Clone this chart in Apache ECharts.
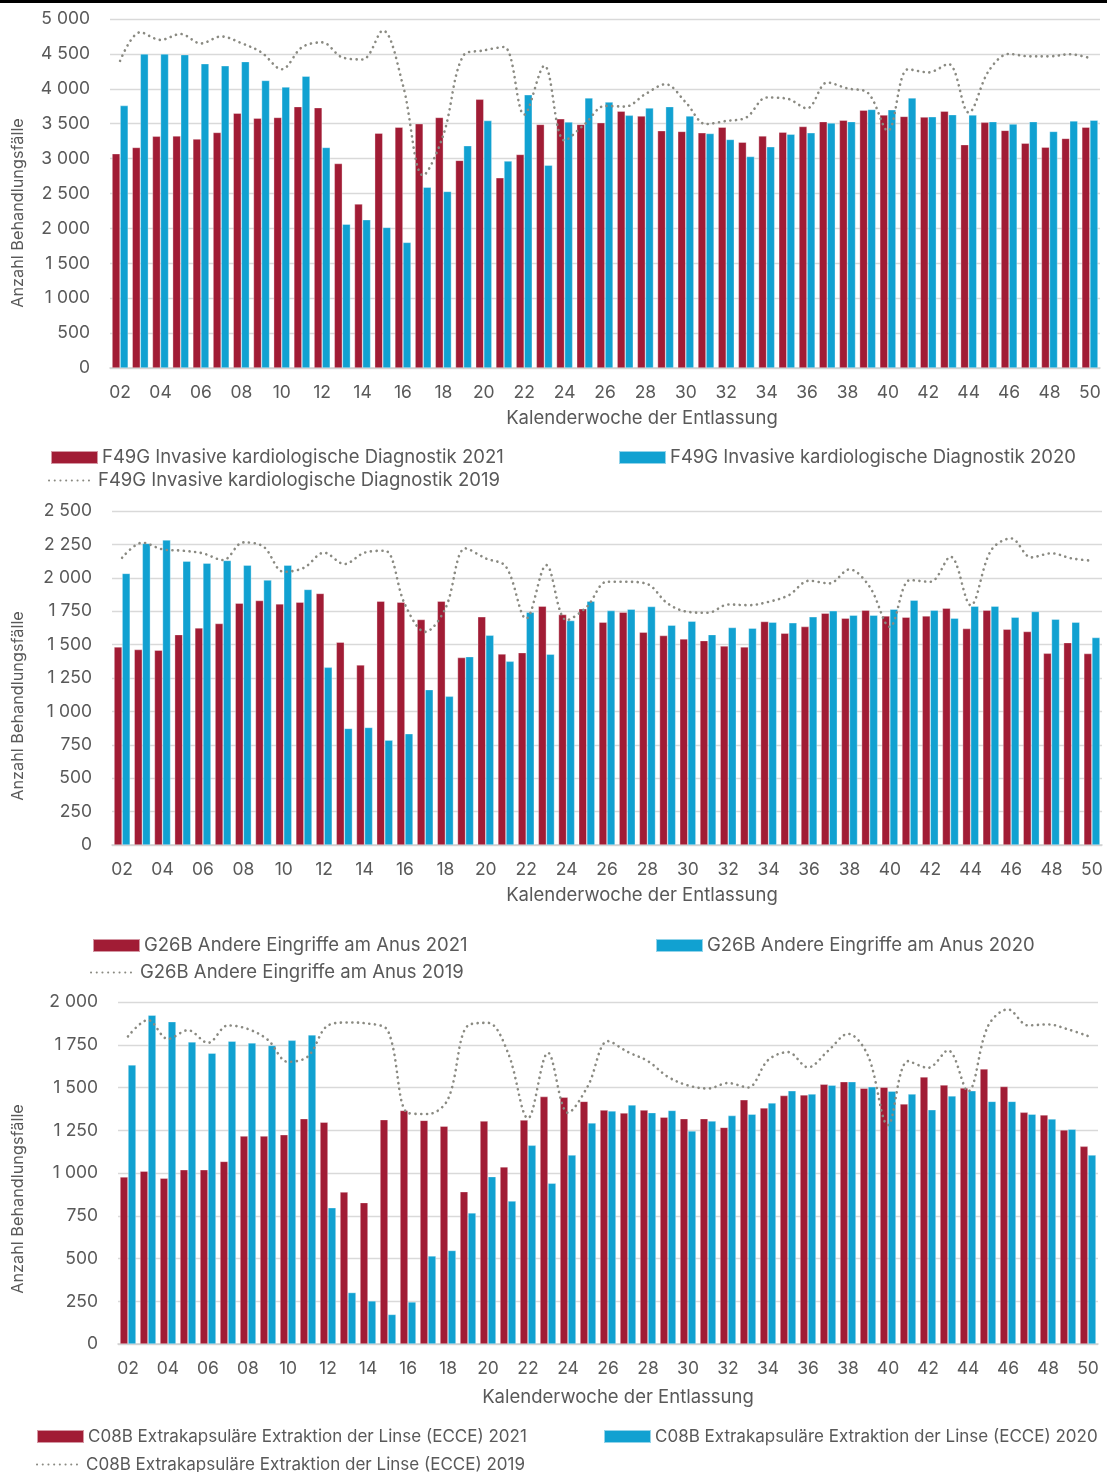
<!DOCTYPE html>
<html>
<head>
<meta charset="utf-8">
<script src="https://cdn.jsdelivr.net/npm/echarts@6/dist/echarts.min.js"></script>
<style>
  html, body { margin: 0; padding: 0; background: #fff; }
  #chart { width: 1107px; height: 1472px; }
</style>
</head>
<body>
<div id="chart"></div>
<script>
let weeks = ['02', '03', '04', '05', '06', '07', '08', '09', '10', '11', '12', '13', '14', '15', '16', '17', '18', '19', '20', '21', '22', '23', '24', '25', '26',
    '27', '28', '29', '30', '31', '32', '33', '34', '35', '36', '37', '38', '39', '40', '41', '42', '43', '44', '45', '46', '47', '48', '49', '50'];

// F49G Invasive kardiologische Diagnostik
let f49g2021 = [3070, 3160, 3320, 3325, 3280, 3375, 3650, 3580, 3590, 3745, 3730, 2930, 2350, 3365, 3450, 3500, 3590, 2975, 3850, 2725, 3060, 3490, 3570, 3490, 3515,
    3680, 3610, 3400, 3390, 3370, 3450, 3235, 3325, 3380, 3460, 3530, 3550, 3695, 3625, 3605, 3595, 3680, 3200, 3520, 3405, 3220, 3165, 3290, 3450];
let f49g2020 = [3760, 4500, 4500, 4490, 4360, 4330, 4390, 4120, 4025, 4180, 3160, 2060, 2125, 2015, 1800, 2590, 2530, 3185, 3545, 2965, 3915, 2905, 3525, 3870, 3810,
    3620, 3725, 3745, 3610, 3360, 3275, 3030, 3170, 3350, 3370, 3510, 3530, 3705, 3700, 3870, 3600, 3630, 3625, 3530, 3495, 3530, 3390, 3540, 3550];
let f49g2019 = [4400, 4810, 4700, 4785, 4650, 4750, 4655, 4520, 4280, 4595, 4665, 4450, 4420, 4835, 4050, 2760, 3340, 4480, 4550, 4600, 3630, 4330, 3260, 3495, 3755,
    3745, 3925, 4065, 3805, 3495, 3540, 3590, 3875, 3860, 3720, 4090, 4005, 3945, 3400, 4280, 4235, 4355, 3660, 4260, 4500, 4465, 4465, 4495, 4440];

// G26B Andere Eingriffe am Anus
let g26b2021 = [1483, 1463, 1458, 1575, 1625, 1658, 1810, 1830, 1805, 1818, 1883, 1518, 1348, 1825, 1818, 1688, 1825, 1403, 1708, 1430, 1440, 1788, 1725, 1768, 1668,
    1743, 1593, 1568, 1543, 1530, 1490, 1483, 1673, 1585, 1635, 1735, 1698, 1758, 1715, 1705, 1715, 1773, 1620, 1758, 1615, 1598, 1435, 1515, 1433];
let g26b2020 = [2033, 2258, 2283, 2125, 2110, 2130, 2095, 1983, 2095, 1913, 1330, 873, 880, 785, 833, 1163, 1113, 1410, 1570, 1375, 1743, 1428, 1680, 1825, 1755,
    1765, 1785, 1645, 1675, 1575, 1628, 1623, 1668, 1663, 1708, 1753, 1720, 1720, 1765, 1833, 1758, 1698, 1788, 1788, 1705, 1748, 1690, 1668, 1553];
let g26b2019 = [2150, 2263, 2213, 2203, 2183, 2133, 2265, 2233, 2045, 2075, 2188, 2103, 2188, 2203, 1800, 1595, 1770, 2220, 2145, 2083, 1695, 2095, 1683, 1783, 1970,
    1970, 1953, 1808, 1745, 1738, 1800, 1795, 1820, 1870, 1978, 1958, 2063, 1933, 1633, 1983, 1970, 2158, 1795, 2203, 2295, 2153, 2183, 2145, 2128];

// C08B Extrakapsuläre Extraktion der Linse (ECCE)
let c08b2021 = [977, 1011, 970, 1019, 1019, 1068, 1216, 1216, 1224, 1318, 1297, 889, 827, 1312, 1366, 1308, 1274, 891, 1304, 1036, 1310, 1447, 1443, 1419, 1368,
    1351, 1368, 1327, 1318, 1318, 1267, 1428, 1381, 1453, 1457, 1519, 1534, 1496, 1502, 1404, 1562, 1515, 1498, 1609, 1506, 1355, 1340, 1252, 1156];
let c08b2020 = [1632, 1923, 1885, 1767, 1701, 1771, 1761, 1746, 1776, 1808, 797, 301, 252, 173, 246, 515, 547, 767, 979, 836, 1162, 940, 1105, 1293, 1363,
    1398, 1353, 1366, 1246, 1304, 1336, 1344, 1410, 1481, 1462, 1513, 1534, 1504, 1479, 1462, 1370, 1451, 1481, 1419, 1419, 1344, 1316, 1256, 1105];
let c08b2019 = [1799, 1895, 1784, 1835, 1761, 1863, 1842, 1778, 1650, 1682, 1863, 1880, 1874, 1831, 1351, 1345, 1432, 1863, 1878, 1703, 1320, 1703, 1352, 1510, 1771,
    1707, 1654, 1562, 1512, 1494, 1526, 1500, 1660, 1707, 1618, 1714, 1814, 1686, 1280, 1654, 1615, 1717, 1478, 1859, 1957, 1863, 1869, 1840, 1801];

let f49gNames = ['F49G Invasive kardiologische Diagnostik 2021', 'F49G Invasive kardiologische Diagnostik 2020', 'F49G Invasive kardiologische Diagnostik 2019'];
let g26bNames = ['G26B Andere Eingriffe am Anus 2021', 'G26B Andere Eingriffe am Anus 2020', 'G26B Andere Eingriffe am Anus 2019'];
let c08bNames = ['C08B Extrakapsuläre Extraktion der Linse (ECCE) 2021', 'C08B Extrakapsuläre Extraktion der Linse (ECCE) 2020', 'C08B Extrakapsuläre Extraktion der Linse (ECCE) 2019'];

let red = '#A11C35';
let blue = '#11A1D1';
let grey = '#8A8A82';
let textColor = '#595959';
let font = 'Inter, "DejaVu Sans", sans-serif';

let panels = [
    {grid: {left: 110, top: 19, width: 990, height: 349}, max: 5000, step: 500, names: f49gNames, data: [f49g2021, f49g2020, f49g2019],
        legend: [[50, 448], [618, 448], [48, 471]], legendSize: 18.5, yTitle: [18, 213], xTitle: [642, 418]},
    {grid: {left: 112, top: 511, width: 990, height: 334}, max: 2500, step: 250, names: g26bNames, data: [g26b2021, g26b2020, g26b2019],
        legend: [[92, 936], [655, 936], [90, 963]], legendSize: 18.5, yTitle: [18, 706], xTitle: [642, 895]},
    {grid: {left: 118, top: 1002, width: 980, height: 342}, max: 2000, step: 250, names: c08bNames, data: [c08b2021, c08b2020, c08b2019],
        legend: [[36, 1428], [603, 1428], [36, 1456]], legendSize: 17, yTitle: [18, 1199], xTitle: [618, 1397]}
];

function fmt (v) {
    return String(v).replace(/\B(?=(\d{3})+(?!\d))/g, ' ');
}

let option = {
    backgroundColor: '#fff',
    animation: false,
    textStyle: {fontFamily: font},
    grid: [],
    xAxis: [],
    yAxis: [],
    series: [],
    legend: [],
    graphic: [
        {type: 'rect', left: 0, top: 0, shape: {width: 1107, height: 3}, style: {fill: '#000'}}
    ]
};

panels.forEach((p, i) => {
    option.grid.push(p.grid);
    option.xAxis.push({
        type: 'category',
        gridIndex: i,
        data: weeks,
        axisTick: {show: false},
        axisLine: {lineStyle: {color: '#d0d0d0', width: 1.5}},
        axisLabel: {interval: 1, color: textColor, fontSize: 17.5, margin: 16, fontFamily: font}
    });
    option.yAxis.push({
        type: 'value',
        gridIndex: i,
        min: 0,
        max: p.max,
        interval: p.step,
        axisLine: {show: false},
        axisTick: {show: false},
        splitLine: {lineStyle: {color: '#d9d9d9', width: 1.3}},
        axisLabel: {color: textColor, fontSize: 17.5, margin: 20, fontFamily: font, formatter: fmt}
    });
    let colors = [red, blue];
    for (let k = 0; k < 2; k++) {
        option.series.push({
            name: p.names[k],
            type: 'bar',
            xAxisIndex: i,
            yAxisIndex: i,
            data: p.data[k],
            barGap: '0%',
            barCategoryGap: '20%',
            itemStyle: {color: colors[k], borderColor: 'rgba(255,255,255,0.55)', borderWidth: 0.6}
        });
    }
    option.series.push({
        name: p.names[2],
        type: 'line',
        xAxisIndex: i,
        yAxisIndex: i,
        data: p.data[2],
        smooth: 0.35,
        symbol: 'none',
        z: 5,
        itemStyle: {color: grey},
        lineStyle: {color: grey, width: 2.6, type: [0.1, 5.6], cap: 'round'}
    });
    for (let k = 0; k < 3; k++) {
        let item = {
            data: [p.names[k]],
            left: p.legend[k][0],
            top: p.legend[k][1],
            padding: 0,
            itemWidth: k < 2 ? 47 : 45,
            itemHeight: 13,
            textStyle: {color: textColor, fontSize: p.legendSize, fontFamily: font, padding: [0, 0, 0, -1]},
            selectedMode: false
        };
        if (k < 2) {
            item.icon = 'rect';
        } else {
            item.itemStyle = {opacity: 0};
        }
        option.legend.push(item);
    }
    option.graphic.push({
        type: 'text',
        x: p.yTitle[0],
        y: p.yTitle[1],
        rotation: Math.PI / 2,
        style: {text: 'Anzahl Behandlungsfälle', fill: textColor, font: '16.3px ' + font, textAlign: 'center', textVerticalAlign: 'middle'}
    });
    option.graphic.push({
        type: 'text',
        x: p.xTitle[0],
        y: p.xTitle[1],
        style: {text: 'Kalenderwoche der Entlassung', fill: textColor, font: '18.5px ' + font, textAlign: 'center', textVerticalAlign: 'middle'}
    });
});

let myChart = echarts.init(document.getElementById('chart'));
myChart.setOption(option);
window.addEventListener('resize', () => {
    myChart.resize();
});
</script>
</body>
</html>
